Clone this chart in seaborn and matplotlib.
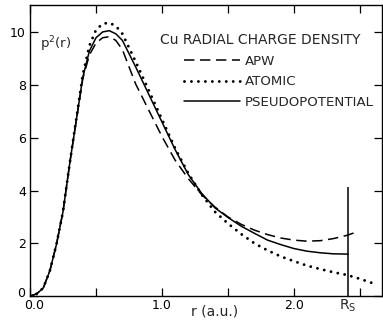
import matplotlib
matplotlib.use("Agg")
import matplotlib.pyplot as plt
from matplotlib.lines import Line2D
from matplotlib.transforms import ScaledTranslation
import pandas as pd
import seaborn as sns

# Radial charge density of Cu, r in atomic units
r_pseudo = [0.0, 0.05, 0.1, 0.15, 0.2, 0.25, 0.3, 0.35, 0.4, 0.45, 0.5, 0.55, 0.6,
            0.65, 0.7, 0.8, 0.9, 1.0, 1.1, 1.2, 1.3, 1.4, 1.5, 1.6, 1.7, 1.8, 1.9,
            2.0, 2.1, 2.2, 2.3, 2.41]
rho_pseudo = [0.0, 0.08, 0.3, 0.95, 1.95, 3.2, 5.0, 6.65, 8.3, 9.3, 9.8, 10.02, 10.07,
              9.95, 9.7, 8.7, 7.65, 6.6, 5.55, 4.6, 3.9, 3.35, 2.98, 2.65, 2.38, 2.12,
              1.95, 1.8, 1.7, 1.64, 1.6, 1.59]

r_apw = [0.0, 0.05, 0.1, 0.15, 0.2, 0.25, 0.3, 0.35, 0.4, 0.45, 0.5, 0.55, 0.6,
         0.65, 0.7, 0.8, 0.9, 1.0, 1.1, 1.2, 1.3, 1.4, 1.5, 1.6, 1.7, 1.8, 1.9,
         2.0, 2.1, 2.2, 2.3, 2.4, 2.48]
rho_apw = [0.0, 0.08, 0.3, 0.95, 1.95, 3.2, 5.0, 6.65, 8.25, 9.15, 9.6, 9.8, 9.84,
           9.7, 9.35, 8.05, 7.05, 6.05, 5.15, 4.45, 3.85, 3.38, 3.0, 2.72, 2.5, 2.33,
           2.2, 2.12, 2.08, 2.1, 2.18, 2.3, 2.44]

r_atomic = [0.0, 0.05, 0.1, 0.15, 0.2, 0.25, 0.3, 0.35, 0.4, 0.45, 0.5, 0.55, 0.6,
            0.65, 0.7, 0.8, 0.9, 1.0, 1.1, 1.2, 1.3, 1.4, 1.5, 1.6, 1.7, 1.8, 1.9,
            2.0, 2.1, 2.2, 2.3, 2.4, 2.5, 2.6]
rho_atomic = [0.0, 0.08, 0.3, 0.95, 1.95, 3.2, 5.0, 6.7, 8.4, 9.5, 10.1, 10.33, 10.37,
              10.25, 9.95, 8.9, 7.8, 6.7, 5.6, 4.65, 3.85, 3.2, 2.75, 2.35, 2.0, 1.73,
              1.5, 1.32, 1.15, 1.02, 0.9, 0.8, 0.65, 0.48]

RS = 2.41            # Wigner-Seitz radius
RS_LINE_TOP = 4.15

x_ticks = [0.0, 0.5, 1.0, 1.5, 2.0, 2.5]
x_tick_labels = ["0.0", "", "1.0", "", "2.0", ""]
y_ticks = [0, 2, 4, 6, 8, 10]
y_tick_labels = ["0", "2", "4", "6", "8", "10"]

sns.set_theme(style="ticks")
plt.rcParams["font.family"] = ["DejaVu Sans"]
plt.rcParams["mathtext.default"] = "regular"
plt.rcParams["lines.scale_dashes"] = False

fig = plt.figure(figsize=(3.83, 3.22), dpi=100)
W, H = 383, 322
ax = fig.add_axes([30 / W, 26 / H, 352 / W, 291 / H])

df_p = pd.DataFrame({"r": r_pseudo, "rho": rho_pseudo})
df_a = pd.DataFrame({"r": r_apw, "rho": rho_apw})
df_t = pd.DataFrame({"r": r_atomic, "rho": rho_atomic})

sns.lineplot(data=df_a, x="r", y="rho", ax=ax, color="black", lw=1.1,
             sort=False, estimator=None)
ax.lines[-1].set_dashes((7.5, 4.0))
sns.lineplot(data=df_t, x="r", y="rho", ax=ax, color="black", lw=2.1,
             sort=False, estimator=None)
ax.lines[-1].set_dashes((0.01, 5.0))
ax.lines[-1].set_dash_capstyle("round")
sns.lineplot(data=df_p, x="r", y="rho", ax=ax, color="black", lw=1.1,
             sort=False, estimator=None)

ax.vlines(RS, 0, RS_LINE_TOP, color="black", lw=1.1)

ax.set_xlim(0, 352 / 132)
ax.set_ylim(0, 291 / 26.35)

ax.set_xticks(x_ticks)
ax.set_xticklabels(x_tick_labels)
ax.set_xticks([RS], minor=True)
ax.set_xticklabels([r"R$_S$"], minor=True)
ax.set_yticks(y_ticks)
ax.set_yticklabels(y_tick_labels)

ax.tick_params(which="major", direction="in", length=6, width=0.9,
               top=True, right=True, labelsize=9, pad=2, colors="black")
ax.tick_params(which="minor", length=0, labelsize=10, pad=1)
ax.tick_params(axis="y", pad=3)
for s in ax.spines.values():
    s.set_linewidth(1.0)
    s.set_color("black")

# keep the "0" of the y axis and the "0.0" of the x axis apart at the corner
zero_y = ax.get_yticklabels()[0]
zero_y.set_transform(zero_y.get_transform()
                     + ScaledTranslation(-1 / 100, 4 / 100, fig.dpi_scale_trans))
zero_x = ax.get_xticklabels()[0]
zero_x.set_transform(zero_x.get_transform()
                     + ScaledTranslation(4 / 100, 0, fig.dpi_scale_trans))

ax.set_xlabel("r (a.u.)", fontsize=10, labelpad=1)
ax.xaxis.set_label_coords((215 - 30) / 352, -0.03)
ax.set_ylabel("")

ax.text(40, H - 44, r"p$^2$(r)", transform=None, fontsize=9.5, va="center")
fig.text(160 / W, 1 - 40 / H, "Cu RADIAL CHARGE DENSITY",
         fontsize=10, va="center", ha="left")

handles = [Line2D([], [], color="black", lw=1.1, dashes=(7.5, 4.0)),
           Line2D([], [], color="black", lw=2.1, dashes=(0.01, 5.0),
                  dash_capstyle="round"),
           Line2D([], [], color="black", lw=1.1)]
labels = ["APW", "ATOMIC", "PSEUDOPOTENTIAL"]
ax.legend(handles, labels, loc="upper left",
          bbox_to_anchor=(184 / W, 1 - 55 / H), bbox_transform=fig.transFigure,
          frameon=False, fontsize=9.6, handlelength=4.2, handletextpad=0.35,
          labelspacing=0.55, borderpad=0, borderaxespad=0)

fig.savefig("out.png", dpi=100)
